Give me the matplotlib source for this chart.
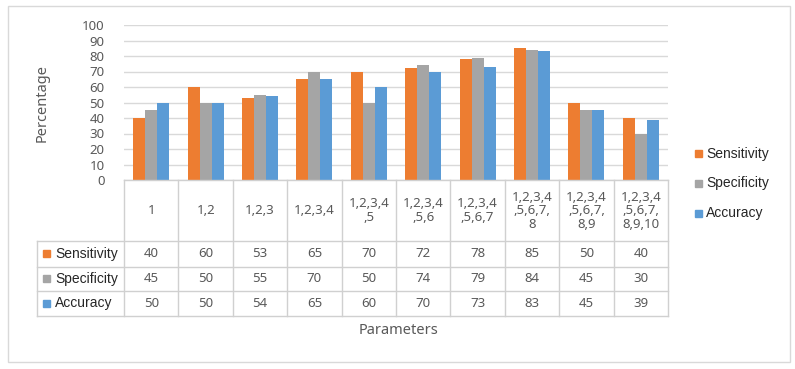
import matplotlib
matplotlib.use("Agg")
import matplotlib.pyplot as plt
import numpy as np
from matplotlib.patches import Rectangle
from matplotlib.lines import Line2D

categories = ["1", "1,2", "1,2,3", "1,2,3,4", "1,2,3,4\n,5", "1,2,3,4\n,5,6",
              "1,2,3,4\n,5,6,7", "1,2,3,4\n,5,6,7,\n8", "1,2,3,4\n,5,6,7,\n8,9",
              "1,2,3,4\n,5,6,7,\n8,9,10"]
series_names = ["Sensitivity", "Specificity", "Accuracy"]
sensitivity = [40, 60, 53, 65, 70, 72, 78, 85, 50, 40]
specificity = [45, 50, 55, 70, 50, 74, 79, 84, 45, 30]
accuracy = [50, 50, 54, 65, 60, 70, 73, 83, 45, 39]
colors = ["#ED7D31", "#A5A5A5", "#5B9BD5"]
yticks = list(range(0, 101, 10))

W, H = 795, 369
fig = plt.figure(figsize=(W / 100, H / 100), dpi=100)

def fx(x):
    return x / W

def fy(y):
    return 1 - y / H

TXT = "#595959"
GRID = "#D9D9D9"
TBL = "#D0D0D0"
NUMFONT = "Noto Sans"
LBLFONT = "Liberation Sans"

# outer border
fig.patches.append(Rectangle((fx(8), fy(362)), fx(790) - fx(8), fy(6) - fy(362),
                             transform=fig.transFigure, fill=False,
                             edgecolor="#D9D9D9", linewidth=1.0))

pl, pr, pt, pb = 124, 668, 25, 180
ax = fig.add_axes([fx(pl), fy(pb), fx(pr) - fx(pl), fy(pt) - fy(pb)])
ax.set_xlim(-0.5, len(categories) - 0.5)
ax.set_ylim(0, 100)
x = np.arange(len(categories))
bw = 0.22
data = [sensitivity, specificity, accuracy]
for k, (vals, c) in enumerate(zip(data, colors)):
    ax.bar(x + (k - 1) * bw, vals, width=bw, color=c, zorder=3)
ax.set_yticks(yticks)
ax.set_yticklabels([str(t) for t in yticks], fontsize=9.5, color=TXT, family=NUMFONT)
ax.tick_params(axis="y", length=0, pad=14)
ax.set_xticks([])
for s in ax.spines.values():
    s.set_visible(False)
ax.grid(axis="y", color=GRID, linewidth=1.0, zorder=0)
ax.set_axisbelow(True)

fig.text(fx(42), fy(103), "Percentage", rotation=90, ha="center", va="center",
         fontsize=10.5, color=TXT, family=NUMFONT)
fig.text(fx(399), fy(331), "Parameters", ha="center", va="center",
         fontsize=10.5, color=TXT, family=NUMFONT)

# table
ncol = len(categories)
colw = (pr - pl) / ncol
xs = [pl + i * colw for i in range(ncol + 1)]
row_y = [180, 241, 266.5, 291, 316]
legx = 37

def hline(y, x0, x1):
    fig.lines.append(Line2D([fx(x0), fx(x1)], [fy(y), fy(y)], transform=fig.transFigure,
                            color=TBL, linewidth=1.0))

def vline(xv, y0, y1):
    fig.lines.append(Line2D([fx(xv), fx(xv)], [fy(y0), fy(y1)], transform=fig.transFigure,
                            color=TBL, linewidth=1.0))

hline(row_y[0], pl, pr)
for yv in row_y[1:]:
    hline(yv, legx, pr)
for xv in xs:
    vline(xv, row_y[0], row_y[-1])
vline(legx, row_y[1], row_y[-1])

for i, cat in enumerate(categories):
    cx = (xs[i] + xs[i + 1]) / 2
    fig.text(fx(cx), fy((row_y[0] + row_y[1]) / 2), cat, ha="center", va="center",
             fontsize=9.5, color=TXT, family=NUMFONT, linespacing=1.05)
    for r, vals in enumerate(data):
        cy = (row_y[r + 1] + row_y[r + 2]) / 2
        fig.text(fx(cx), fy(cy), str(vals[i]), ha="center", va="center",
                 fontsize=9.5, color=TXT, family=NUMFONT)

for r, (name, c) in enumerate(zip(series_names, colors)):
    cy = (row_y[r + 1] + row_y[r + 2]) / 2
    fig.patches.append(Rectangle((fx(43), fy(cy + 3.5)), fx(7), 7 / H,
                                 transform=fig.transFigure, color=c))
    fig.text(fx(55), fy(cy), name, ha="left", va="center", fontsize=10,
             color="#262626", family=LBLFONT)

# legend on the right
for yc, name, c in zip([154, 183, 213], series_names, colors):
    fig.patches.append(Rectangle((fx(695), fy(yc + 3.5)), fx(7), 7 / H,
                                 transform=fig.transFigure, color=c))
    fig.text(fx(706), fy(yc), name, ha="left", va="center", fontsize=10,
             color="#262626", family=LBLFONT)

fig.savefig("out.png", dpi=100, facecolor="white")
